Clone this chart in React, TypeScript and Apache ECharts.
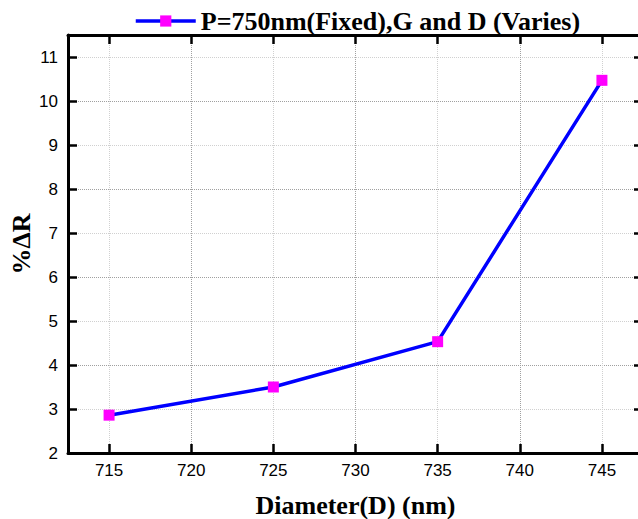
import React, { useEffect, useRef } from "react";
import * as echarts from "echarts";

const seriesName = "P=750nm(Fixed),G and D (Varies)";
const diameters = [715, 725, 735, 745];
const deltaR = [2.86, 3.5, 4.53, 10.47];
const xTickValues = [715, 720, 725, 730, 735, 740, 745];
const yTickValues = [2, 3, 4, 5, 6, 7, 8, 9, 10, 11];
const xName = "Diameter(D) (nm)";
const yName = "%ΔR";

export default function App() {
  const ref = useRef<HTMLDivElement>(null);
  useEffect(() => {
    if (!ref.current) return;
    const chart = echarts.init(ref.current, null, { renderer: "svg" });
    const axisLineStyle = { color: "#000", width: 3 };
    const labelFont = { fontFamily: "Liberation Sans", fontSize: 17, color: "#000" };
    const nameFont = {
      fontFamily: "Liberation Serif",
      fontSize: 26,
      fontWeight: "bold" as const,
      color: "#000",
    };
    chart.setOption({
      animation: false,
      backgroundColor: "#fff",
      grid: {
        left: 68,
        right: -5,
        top: 35,
        bottom: 66,
        containLabel: false,
        outerBoundsMode: "none",
      },
      legend: {
        data: [seriesName],
        left: 129,
        top: 3,
        itemWidth: 60,
        itemHeight: 14,
        lineStyle: { width: 3.5 },
        textStyle: nameFont,
      },
      xAxis: [
        {
          type: "value",
          position: "bottom",
          min: 712.5,
          max: 747.5,
          interval: 2.5,
          name: xName,
          nameLocation: "middle",
          nameGap: 39,
          nameMoveOverlap: false,
          nameTextStyle: nameFont,
          axisLine: { show: true, onZero: false, lineStyle: axisLineStyle },
          axisTick: {
            show: true,
            inside: true,
            length: 9,
            customValues: xTickValues,
            lineStyle: { color: "#000", width: 2.5 },
          },
          axisLabel: { ...labelFont, margin: 9, customValues: xTickValues },
          splitLine: {
            show: true,
            lineStyle: { type: "dotted", color: ["#d0d0d0", "#a0a0a0"], width: 1 },
          },
        },
        {
          type: "value",
          position: "top",
          min: 712.5,
          max: 747.5,
          interval: 2.5,
          axisLine: { show: true, onZero: false, lineStyle: axisLineStyle },
          axisTick: {
            show: true,
            inside: true,
            length: 9,
            customValues: xTickValues,
            lineStyle: { color: "#000", width: 2.5 },
          },
          axisLabel: { show: false },
          splitLine: { show: false },
        },
      ],
      yAxis: [
        {
          type: "value",
          position: "left",
          min: 2,
          max: 11.5,
          interval: 0.5,
          name: yName,
          nameLocation: "middle",
          nameGap: 34,
          nameMoveOverlap: false,
          nameTextStyle: nameFont,
          axisLine: { show: true, onZero: false, lineStyle: axisLineStyle },
          axisTick: {
            show: true,
            inside: true,
            length: 9,
            customValues: yTickValues,
            lineStyle: { color: "#000", width: 2.5 },
          },
          axisLabel: { ...labelFont, margin: 10, customValues: yTickValues },
          splitLine: {
            show: true,
            lineStyle: { type: "dotted", color: ["#a0a0a0", "#d0d0d0"], width: 1 },
          },
        },
        {
          type: "value",
          position: "right",
          min: 2,
          max: 11.5,
          interval: 0.5,
          axisLine: { show: true, onZero: false, lineStyle: axisLineStyle },
          axisTick: {
            show: true,
            inside: true,
            length: 9,
            customValues: yTickValues,
            lineStyle: { color: "#000", width: 2.5 },
          },
          axisLabel: { show: false },
          splitLine: { show: false },
        },
      ],
      series: [
        {
          name: seriesName,
          type: "line",
          xAxisIndex: 0,
          yAxisIndex: 0,
          data: diameters.map((d, i) => [d, deltaR[i]]),
          symbol: "rect",
          symbolSize: 11,
          itemStyle: { color: "#ff00ff" },
          lineStyle: { color: "#0000ff", width: 3.5 },
        },
      ],
    });
    return () => chart.dispose();
  }, []);
  return (
    <div
      ref={ref}
      style={{ position: "fixed", left: 0, top: 0, width: 638, height: 519 }}
    />
  );
}
